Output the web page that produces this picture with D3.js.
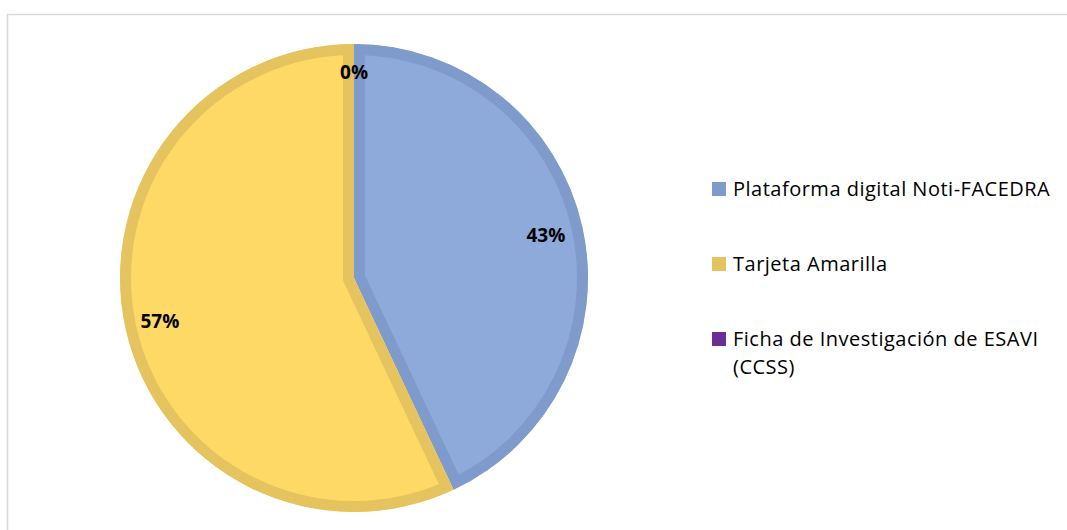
<!DOCTYPE html>
<meta charset="utf-8">
<script src="https://cdn.jsdelivr.net/npm/d3@7"></script>
<style>
body { margin: 0; background: #fff; }
.lbl { font-family: "Open Sans", "Noto Sans", sans-serif; font-weight: bold; font-size: 19px; fill: #000; }
.leg { font-family: "Open Sans", "Noto Sans", sans-serif; font-size: 20px; letter-spacing: 0.5px; fill: #000; }
</style>
<body>
<div id="chart"></div>
<script>
// data
var categories = ["Plataforma digital Noti-FACEDRA", "Tarjeta Amarilla", "Ficha de Investigación de ESAVI (CCSS)"];
var values = [43, 57, 0];
var labels = ["43%", "57%", "0%"];
var fills = ["#8eaadb", "#ffd966", "#7030a0"];
var borders = ["#7f9bcb", "#e5c35e", "#6a2d96"];
var legendLines = [["Plataforma digital Noti-FACEDRA"], ["Tarjeta Amarilla"], ["Ficha de Investigación de ESAVI", "(CCSS)"]];

var W = 1067, H = 530;
var cx = 354, cy = 278, r = 234;

var svg = d3.select("#chart").append("svg")
    .attr("width", W).attr("height", H);

// frame
svg.append("rect")
    .attr("x", 7.5).attr("y", 14.5)
    .attr("width", W + 10).attr("height", H + 10)
    .attr("fill", "none").attr("stroke", "#d9d9d9").attr("stroke-width", 1.5);

var pie = d3.pie().sort(null).value(function(d) { return d; });
var arcs = pie(values);
var arc = d3.arc().innerRadius(0).outerRadius(r);

var g = svg.append("g").attr("transform", "translate(" + cx + "," + cy + ")");
var defs = svg.append("defs");

arcs.forEach(function(a, i) {
    if (a.endAngle - a.startAngle <= 0) return;
    defs.append("clipPath").attr("id", "clip" + i)
        .append("path").attr("d", arc(a));
    g.append("path")
        .attr("d", arc(a))
        .attr("fill", fills[i])
        .attr("stroke", borders[i])
        .attr("stroke-width", 22)
        .attr("clip-path", "url(#clip" + i + ")");
});

// data labels
var labelPos = [
    d3.arc().innerRadius(r * 0.84).outerRadius(r * 0.84),
    d3.arc().innerRadius(r * 0.85).outerRadius(r * 0.85),
    d3.arc().innerRadius(r * 0.88).outerRadius(r * 0.88)
];
g.selectAll("text.lbl")
    .data(arcs)
    .enter().append("text")
    .attr("class", "lbl")
    .attr("text-anchor", "middle")
    .attr("dy", "0.35em")
    .attr("transform", function(d, i) {
        var p = labelPos[i].centroid(d);
        return "translate(" + p[0] + "," + p[1] + ")";
    })
    .text(function(d, i) { return labels[i]; });

// legend
var leg = svg.append("g").attr("transform", "translate(712,0)");
var legY = [189, 264, 339];
categories.forEach(function(c, i) {
    leg.append("rect")
        .attr("x", 0).attr("y", legY[i] - 7)
        .attr("width", 14).attr("height", 14)
        .attr("fill", borders[i]);
    legendLines[i].forEach(function(t, j) {
        leg.append("text")
            .attr("class", "leg")
            .attr("x", 21).attr("y", legY[i] + j * 28)
            .attr("dy", "0.35em")
            .text(t);
    });
});
</script>
</body>
